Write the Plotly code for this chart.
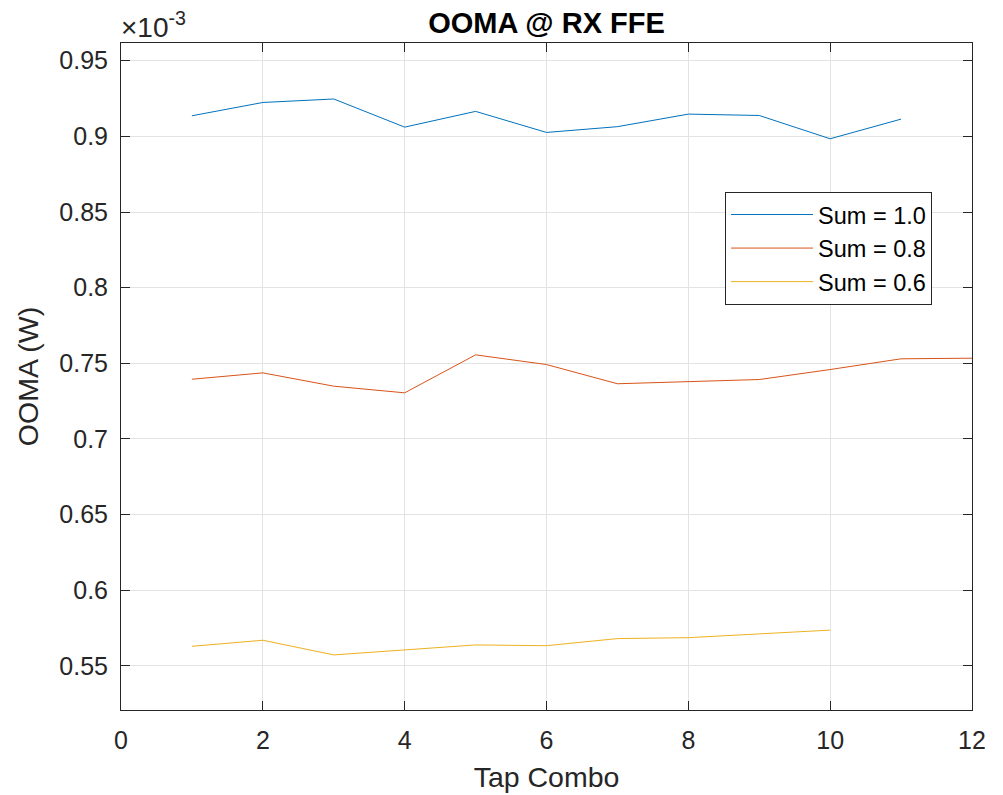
import plotly.graph_objects as go

tap_combo = [1, 2, 3, 4, 5, 6, 7, 8, 9, 10, 11, 12]
sum_10 = [0.9136, 0.9224, 0.9247, 0.9061, 0.9165, 0.9026, 0.9064, 0.9147, 0.9138, 0.8984, 0.9114]
sum_08 = [0.7395, 0.7437, 0.7349, 0.7305, 0.7556, 0.7492, 0.7365, 0.7380, 0.7393, 0.7459, 0.7530, 0.7534]
sum_06 = [0.5630, 0.5670, 0.5573, 0.5608, 0.5639, 0.5634, 0.5681, 0.5687, 0.5712, 0.5737]
series_names = ["Sum = 1.0", "Sum = 0.8", "Sum = 0.6"]
colors = ["#0072BD", "#D95319", "#EDB120"]
y_ticks = [0.55, 0.6, 0.65, 0.7, 0.75, 0.8, 0.85, 0.9, 0.95]
y_ticktext = ["0.55", "0.6", "0.65", "0.7", "0.75", "0.8", "0.85", "0.9", "0.95"]
x_ticks = [0, 2, 4, 6, 8, 10, 12]

FONT = "Liberation Sans, Arial, Helvetica, sans-serif"
AX = "#262626"
W, H = 995, 787  # page body has an 8px margin

fig = go.Figure()
for name, ys, c in zip(series_names, [sum_10, sum_08, sum_06], colors):
    fig.add_trace(go.Scatter(x=tap_combo[:len(ys)], y=ys, mode="lines", name=name,
                             line=dict(color=c, width=1)))

axis_common = dict(showline=True, linecolor=AX, linewidth=1, mirror="ticks",
                   ticks="inside", ticklen=9, tickwidth=1, tickcolor=AX,
                   showgrid=True, gridcolor="#e3e3e3", gridwidth=1, zeroline=False,
                   automargin=False,
                   tickfont=dict(family=FONT, size=25, color=AX))

fig.update_layout(
    width=W, height=H,
    paper_bgcolor="white", plot_bgcolor="white",
    margin=dict(l=113, r=31, t=35, b=85),
    title=dict(text="<b>OOMA @ RX FFE</b>", x=0.5, xanchor="center", xref="paper",
               y=1 - 14.5 / H, yanchor="middle", yref="container",
               font=dict(family=FONT, size=29, color="black")),
    xaxis=dict(range=[0, 12], tickvals=x_ticks, ticklabelstandoff=8,
               title=dict(text="Tap Combo", standoff=14,
                          font=dict(family=FONT, size=28.5, color=AX)), **axis_common),
    yaxis=dict(range=[0.5209, 0.9617], tickvals=y_ticks, ticktext=y_ticktext, ticklabelstandoff=7,
               title=dict(text="OOMA (W)", standoff=12, font=dict(family=FONT, size=28.5, color=AX)),
               **axis_common),
    legend=dict(x=0.7098, y=0.777, xanchor="left", yanchor="top",
                bgcolor="white", bordercolor=AX, borderwidth=1, itemwidth=82,
                font=dict(family=FONT, size=23.5, color="black"), tracegroupgap=0),
    showlegend=True,
)
fig.add_annotation(text="×10<sup>-3</sup>", xref="paper", yref="paper", x=0, y=1,
                   xanchor="left", yanchor="bottom", showarrow=False, xshift=-2, yshift=-2,
                   font=dict(family=FONT, size=28, color=AX))

fig.write_html("out.html")
